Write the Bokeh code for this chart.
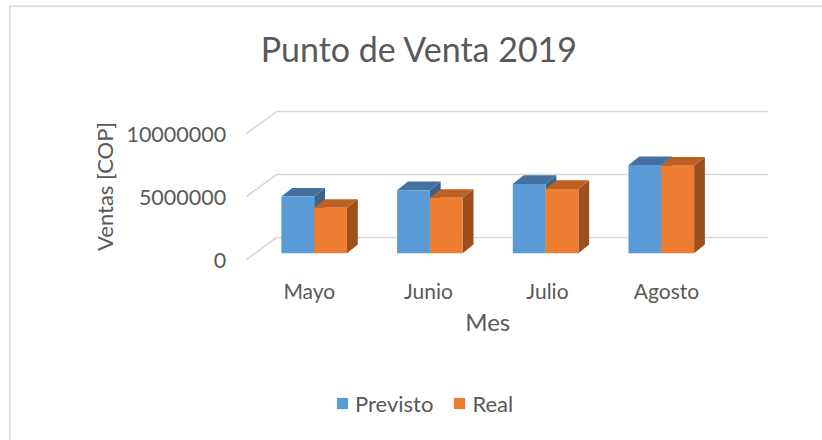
import math
from bokeh.plotting import figure
from bokeh.models import Range1d, Legend, LegendItem
from bokeh.core.properties import value
from bokeh.embed import file_html
from bokeh.resources import INLINE

# ---------------- data ----------------
title_text = "Punto de Venta 2019"
months = ["Mayo", "Junio", "Julio", "Agosto"]
previsto = [4500000, 5000000, 5500000, 7000000]
real = [3600000, 4400000, 5100000, 6950000]
series_names = ["Previsto", "Real"]
y_ticks = [0, 5000000, 10000000]
y_tick_labels = ["0", "5000000", "10000000"]
x_title = "Mes"
y_title = "Ventas [COP]"

# ---------------- geometry / style ----------------
W, H = 822, 440
PX_PER_CAT = 115.7          # pixels per category step
PX_PER_VAL = 12.6e-6        # pixels per COP
X0 = 313.7                  # canvas px of first category centre
Y0 = 252.7                  # canvas px of value 0 (bar plane)
ux = 1.0 / PX_PER_CAT       # data units per px (x)
uy = 1.0 / PX_PER_VAL       # data units per px (y)


def sx(px):
    return (px - X0) * ux


def sy(py):
    return (Y0 - py) * uy


BAR_W = 32.8 * ux
BAR_DX, BAR_DY = 10.8 * ux, 8.6 * uy
BACK_DX, BACK_DY = 21.5 * ux, 15.7 * uy
FRONT_DX, FRONT_DY = -8.7 * ux, -6.3 * uy
FLOOR_L, FLOOR_R = -0.51, 3.74

FONT = value("Lato")
TXT = "#595959"
GRID = "#d9d9d9"
COLORS = {
    "front": ["#5b9bd5", "#ed7d31"],
    "top": ["#4472a0", "#be6024"],
    "side": ["#3a648c", "#9c501e"],
}

p = figure(width=W, height=H, output_backend="svg", toolbar_location=None,
           x_range=Range1d(sx(0), sx(W)), y_range=Range1d(sy(H), sy(0)),
           min_border=0, x_axis_location=None, y_axis_location=None,
           tools="")
p.xgrid.visible = False
p.ygrid.visible = False
p.outline_line_color = None
p.background_fill_color = "white"
p.border_fill_color = "white"

# chart-area border (its right/bottom edges lie outside the picture)
p.quad(left=[sx(9.2)], right=[sx(W + 20)], top=[sy(5.8)], bottom=[sy(H + 20)],
       fill_color=None, line_color="#d9d9d9", line_width=1.6)

# ---------------- walls / gridlines ----------------
gx, gy = [], []
for t in y_ticks:
    gx.append([FLOOR_L + FRONT_DX, FLOOR_L + BACK_DX, FLOOR_R + BACK_DX])
    gy.append([t + FRONT_DY, t + BACK_DY, t + BACK_DY])
p.multi_line(gx, gy, line_color=GRID, line_width=1.6)

# ---------------- 3D bars ----------------
front_renderers = []
for s, vals in enumerate([previsto, real]):
    lefts = [i - BAR_W + s * BAR_W for i in range(len(months))]
    rights = [l + BAR_W for l in lefts]
    side_x, side_y, top_x, top_y = [], [], [], []
    for l, r, v in zip(lefts, rights, vals):
        side_x.append([r, r + BAR_DX, r + BAR_DX, r])
        side_y.append([0, BAR_DY, v + BAR_DY, v])
        top_x.append([l, r, r + BAR_DX, l + BAR_DX])
        top_y.append([v, v, v + BAR_DY, v + BAR_DY])
    p.patches(side_x, side_y, fill_color=COLORS["side"][s], line_color=None)
    p.patches(top_x, top_y, fill_color=COLORS["top"][s], line_color=None)
    centers = [(l + r) / 2 for l, r in zip(lefts, rights)]
    fr = p.vbar(x=centers, width=BAR_W, top=vals, bottom=0,
                fill_color=COLORS["front"][s], line_color=None)
    front_renderers.append(fr)

# ---------------- texts ----------------
p.text(x=[sx(419)], y=[sy(48.3)], text=[title_text],
       text_font=FONT, text_font_size=value("34px"), text_color=TXT,
       text_align="center", text_baseline="middle")

p.text(x=[FLOOR_L + FRONT_DX - 20.3 * ux] * len(y_ticks),
       y=[t + FRONT_DY - 0.9 * uy for t in y_ticks], text=y_tick_labels,
       text_font=FONT, text_font_size=value("21.5px"), text_color=TXT,
       text_align="right", text_baseline="middle")

p.text(x=[-0.042 + 1.029 * i for i in range(len(months))],
       y=[sy(290.3)] * len(months), text=months,
       text_font=FONT, text_font_size=value("21px"), text_color=TXT,
       text_align="center", text_baseline="middle")

p.text(x=[(len(months) - 1) / 2], y=[sy(321)], text=[x_title],
       text_font=FONT, text_font_size=value("24px"), text_color=TXT,
       text_align="center", text_baseline="middle")
p.text(x=[sx(104)], y=[sy(186)], text=[y_title], angle=math.pi / 2,
       text_font=FONT, text_font_size=value("22px"), text_color=TXT,
       text_align="center", text_baseline="middle")

# ---------------- legend ----------------
legend = Legend(items=[LegendItem(label=n, renderers=[r])
                       for n, r in zip(series_names, front_renderers)],
                orientation="horizontal", location=(335, 23.5),
                glyph_width=14, glyph_height=14, label_standoff=6, spacing=19,
                padding=0, margin=0, border_line_alpha=0,
                background_fill_alpha=0,
                label_text_font="Lato", label_text_font_size="22px",
                label_text_color=TXT)
p.add_layout(legend, "center")

open("out.html", "w").write(file_html(p, INLINE))
